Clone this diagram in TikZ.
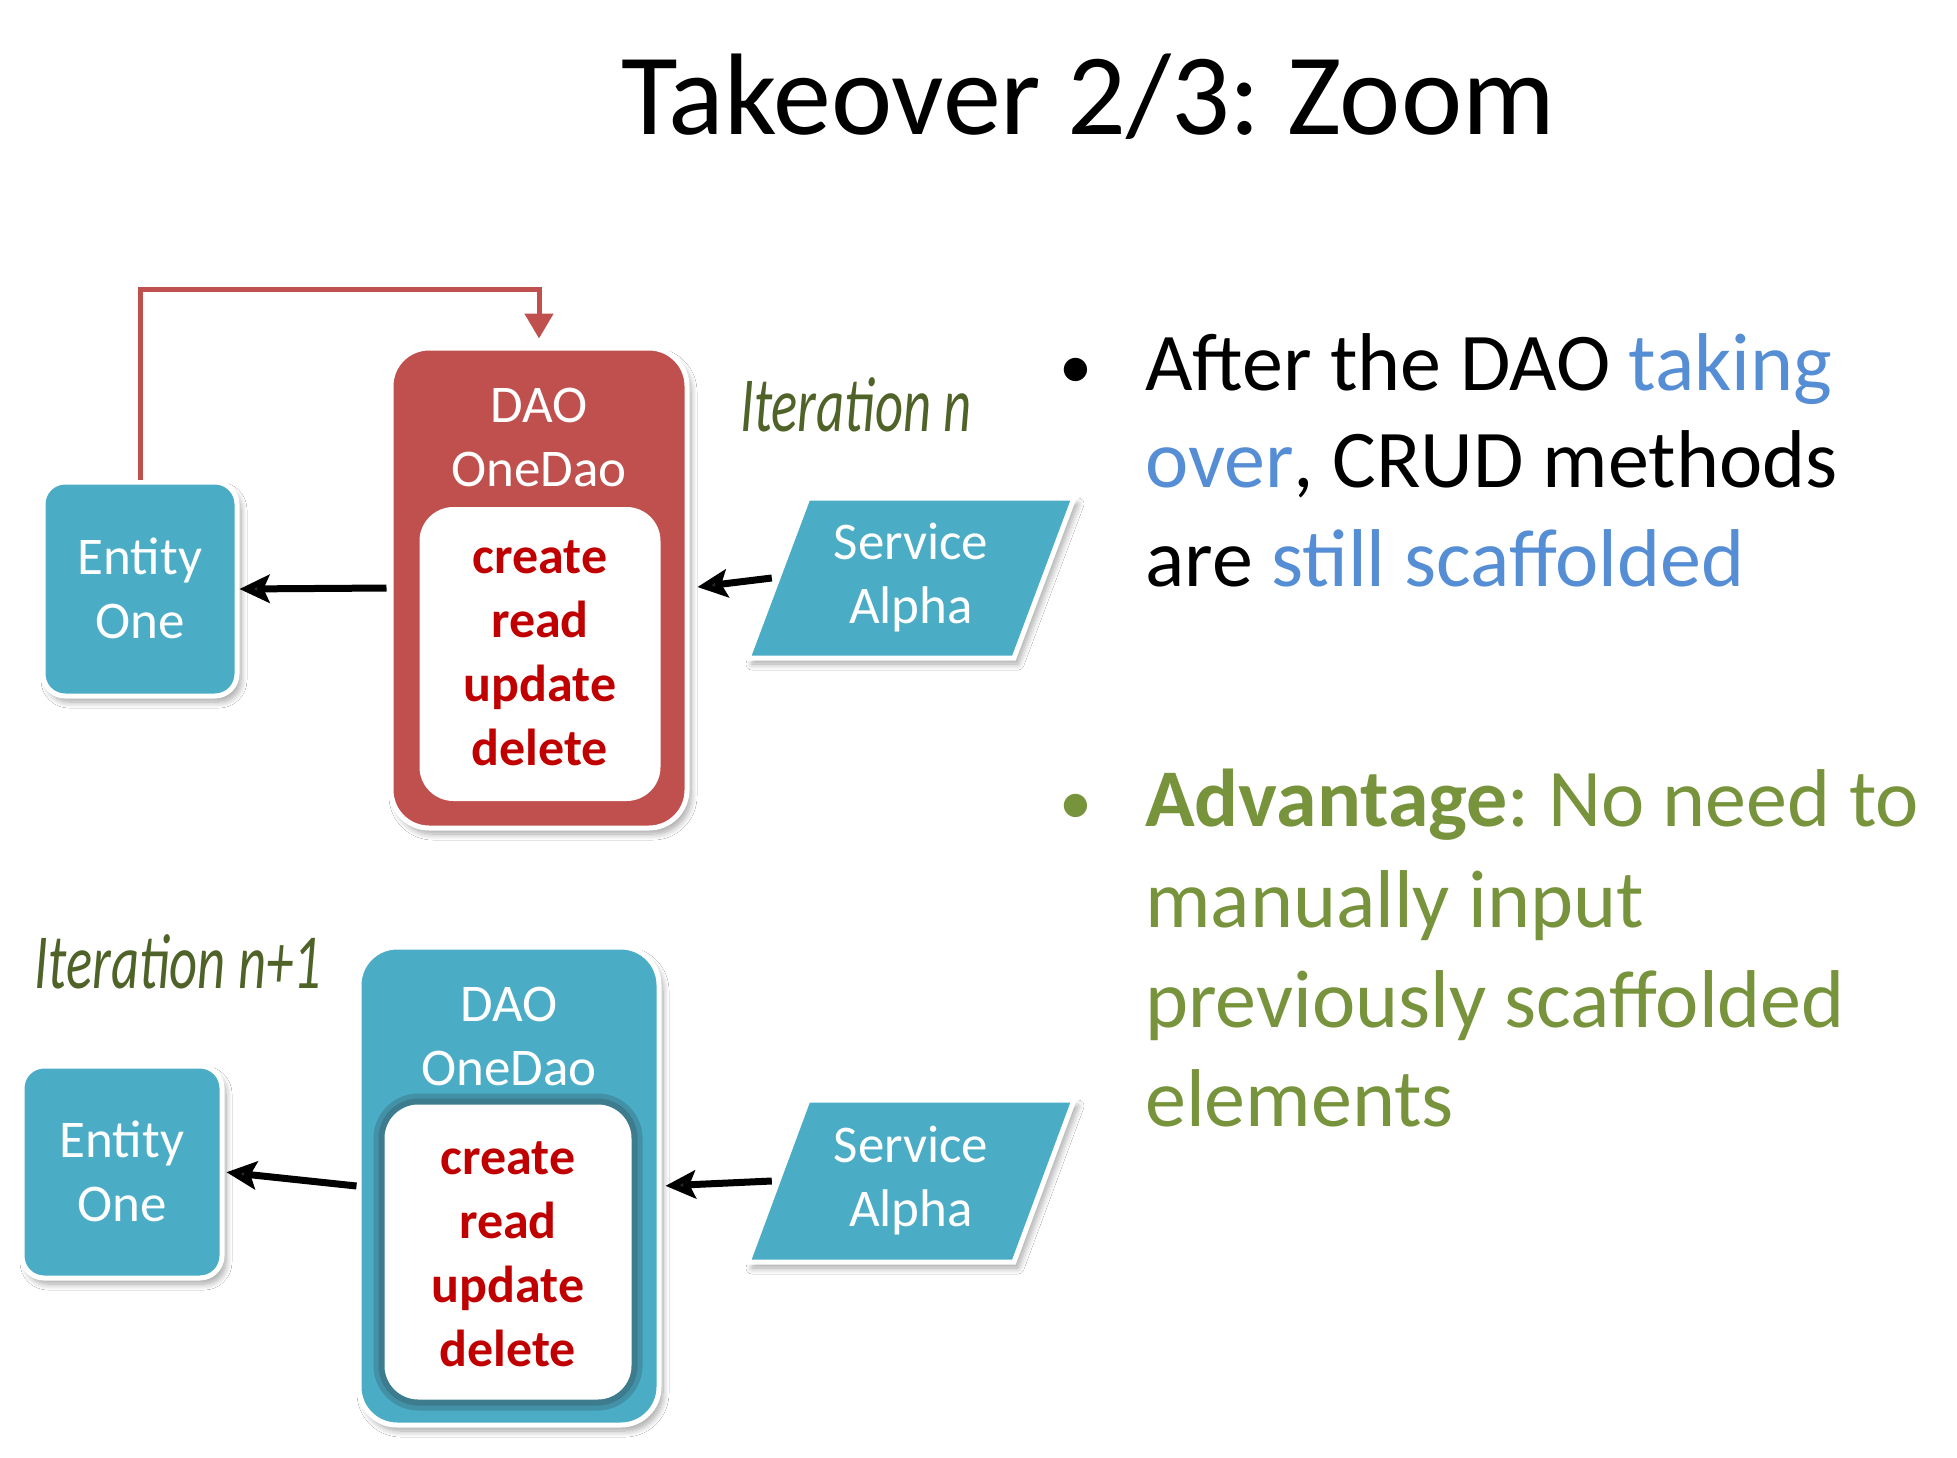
\documentclass[tikz,border=0pt]{standalone}
\usepackage{fontspec}
\setmainfont{Carlito}
\newfontfamily\handfont{Carlito}[FakeStretch=0.7]
\usetikzlibrary{shadows.blur,arrows.meta,calc}
\definecolor{tealbox}{HTML}{4BACC6}
\definecolor{redbox}{HTML}{C0504D}
\definecolor{crudred}{HTML}{C00000}
\definecolor{txtblue}{HTML}{558ED5}
\definecolor{txtgreen}{HTML}{77933C}
\definecolor{handgreen}{HTML}{4F6228}
\definecolor{glow}{HTML}{3A6F80}
\frenchspacing
\begin{document}
\begin{tikzpicture}[x=1pt,y=-1pt,
  shad/.style={blur shadow={shadow xshift=4pt,shadow yshift=-6pt,shadow opacity=35,shadow blur steps=10,shadow blur radius=6pt}},
  box/.style={rectangle,rounded corners=#1,draw=white,line width=5pt,inner sep=0pt,shad},
  box/.default=22pt,
  inner/.style={rectangle,rounded corners=34pt,fill=white,inner sep=0pt},
  parabox/.style={fill=tealbox,draw=white,line width=5pt,line join=miter,shad},
  lbl/.style={align=center,text=white,font=\fontsize{53}{64}\selectfont,inner sep=0pt},
  crud/.style={align=center,text=crudred,font=\bfseries\fontsize{52}{64}\selectfont,inner sep=0pt},
  hand/.style={text=handgreen,font=\handfont\itshape\fontsize{78}{80}\selectfont,inner sep=0pt},
  para/.style={font=\fontsize{82}{100}\selectfont,inner sep=0pt,anchor=base west},
  bul/.style={font=\fontsize{66}{80}\selectfont,inner sep=0pt,anchor=base},
  blackarrow/.style={line width=7pt,-{Stealth[length=30pt,width=28pt,inset=6pt]}},
  redline/.style={draw=redbox,line width=5pt,-{Triangle[length=25pt,width=28pt]}}
]
\useasboundingbox[fill=white] (0,0) rectangle (1957,1458);

% title
\node[anchor=base,font=\fontsize{116}{120}\selectfont,inner sep=0pt] (title) at (1088,135) {Takeover 2/3: Zoom};

% ---------- Iteration n ----------
\node[box=22pt,fill=tealbox,minimum width=194pt,minimum height=214pt] (ent1) at (140,589) {};
\node[lbl] (ent1t) at (140,588) {Entity\\One};

\node[box=38pt,fill=redbox,minimum width=296pt,minimum height=480pt] (dao1) at (539,588) {};
\node[lbl] (dao1t) at (539,437) {DAO\\OneDao};
\node[inner,minimum width=241pt,minimum height=294pt] (in1) at (540,654) {};
\node[crud] (crud1) at (540,653) {create\\read\\update\\delete};

\path[parabox] (748,658) -- (1014,658) -- (1074,498) -- (808,498) -- cycle;
\node[lbl,minimum width=278pt,minimum height=160pt] (sa1) at (911,578) {Service\\Alpha};

\node[hand] (it1) at (856,405) {Iteration n};

\draw[redline,shorten >=7pt] (ent1.north) -- ++(0,-190) -| (dao1.north);
\draw[blackarrow,shorten <=2pt] (dao1.west) -- (ent1.east);
\draw[blackarrow,shorten >=8pt] (sa1.west) -- (dao1.east);

% ---------- Iteration n+1 ----------
\node[box=22pt,fill=tealbox,minimum width=200pt,minimum height=212pt] (ent2) at (122,1172) {};
\node[lbl] (ent2t) at (122,1171) {Entity\\One};

\node[box=38pt,fill=tealbox,minimum width=300pt,minimum height=478pt] (dao2) at (509,1186) {};
\node[lbl] (dao2t) at (509,1036) {DAO\\OneDao};
\node[inner,minimum width=247pt,minimum height=295pt,
  preaction={draw=glow!45!tealbox,line width=22pt,rounded corners=34pt},
  preaction={draw=glow!80!tealbox,line width=12pt,rounded corners=34pt}] (in2) at (508,1252) {};
\node[crud] (crud2) at (508,1254) {create\\read\\update\\delete};

\path[parabox] (748,1262) -- (1014,1262) -- (1074,1100) -- (808,1100) -- cycle;
\node[lbl,minimum width=278pt,minimum height=162pt] (sa2) at (911,1181) {Service\\Alpha};

\node[hand] (it2) at (178,962) {Iteration n+1};

\draw[blackarrow,shorten >=2pt] (dao2.west) -- (ent2.east);
\draw[blackarrow,shorten >=4pt] (sa2.west) -- (dao2.east);

% ---------- right text ----------
\node[bul] (b1) at (1076,388) {•};
\node[para] (l1) at (1145,390) {After the DAO \textcolor{txtblue}{taking}};
\node[para] (l2) at (1145,487) {\textcolor{txtblue}{over}, CRUD methods};
\node[para] (l3) at (1145,586) {are \textcolor{txtblue}{still scaffolded}};

\node[bul,text=txtgreen] (b2) at (1076,824) {•};
\node[para,text=txtgreen] (g1) at (1145,826) {\textbf{Advantage}: No need to};
\node[para,text=txtgreen] (g2) at (1145,927) {manually input};
\node[para,text=txtgreen] (g3) at (1145,1027) {previously scaffolded};
\node[para,text=txtgreen] (g4) at (1145,1126) {elements};
\end{tikzpicture}
\end{document}
